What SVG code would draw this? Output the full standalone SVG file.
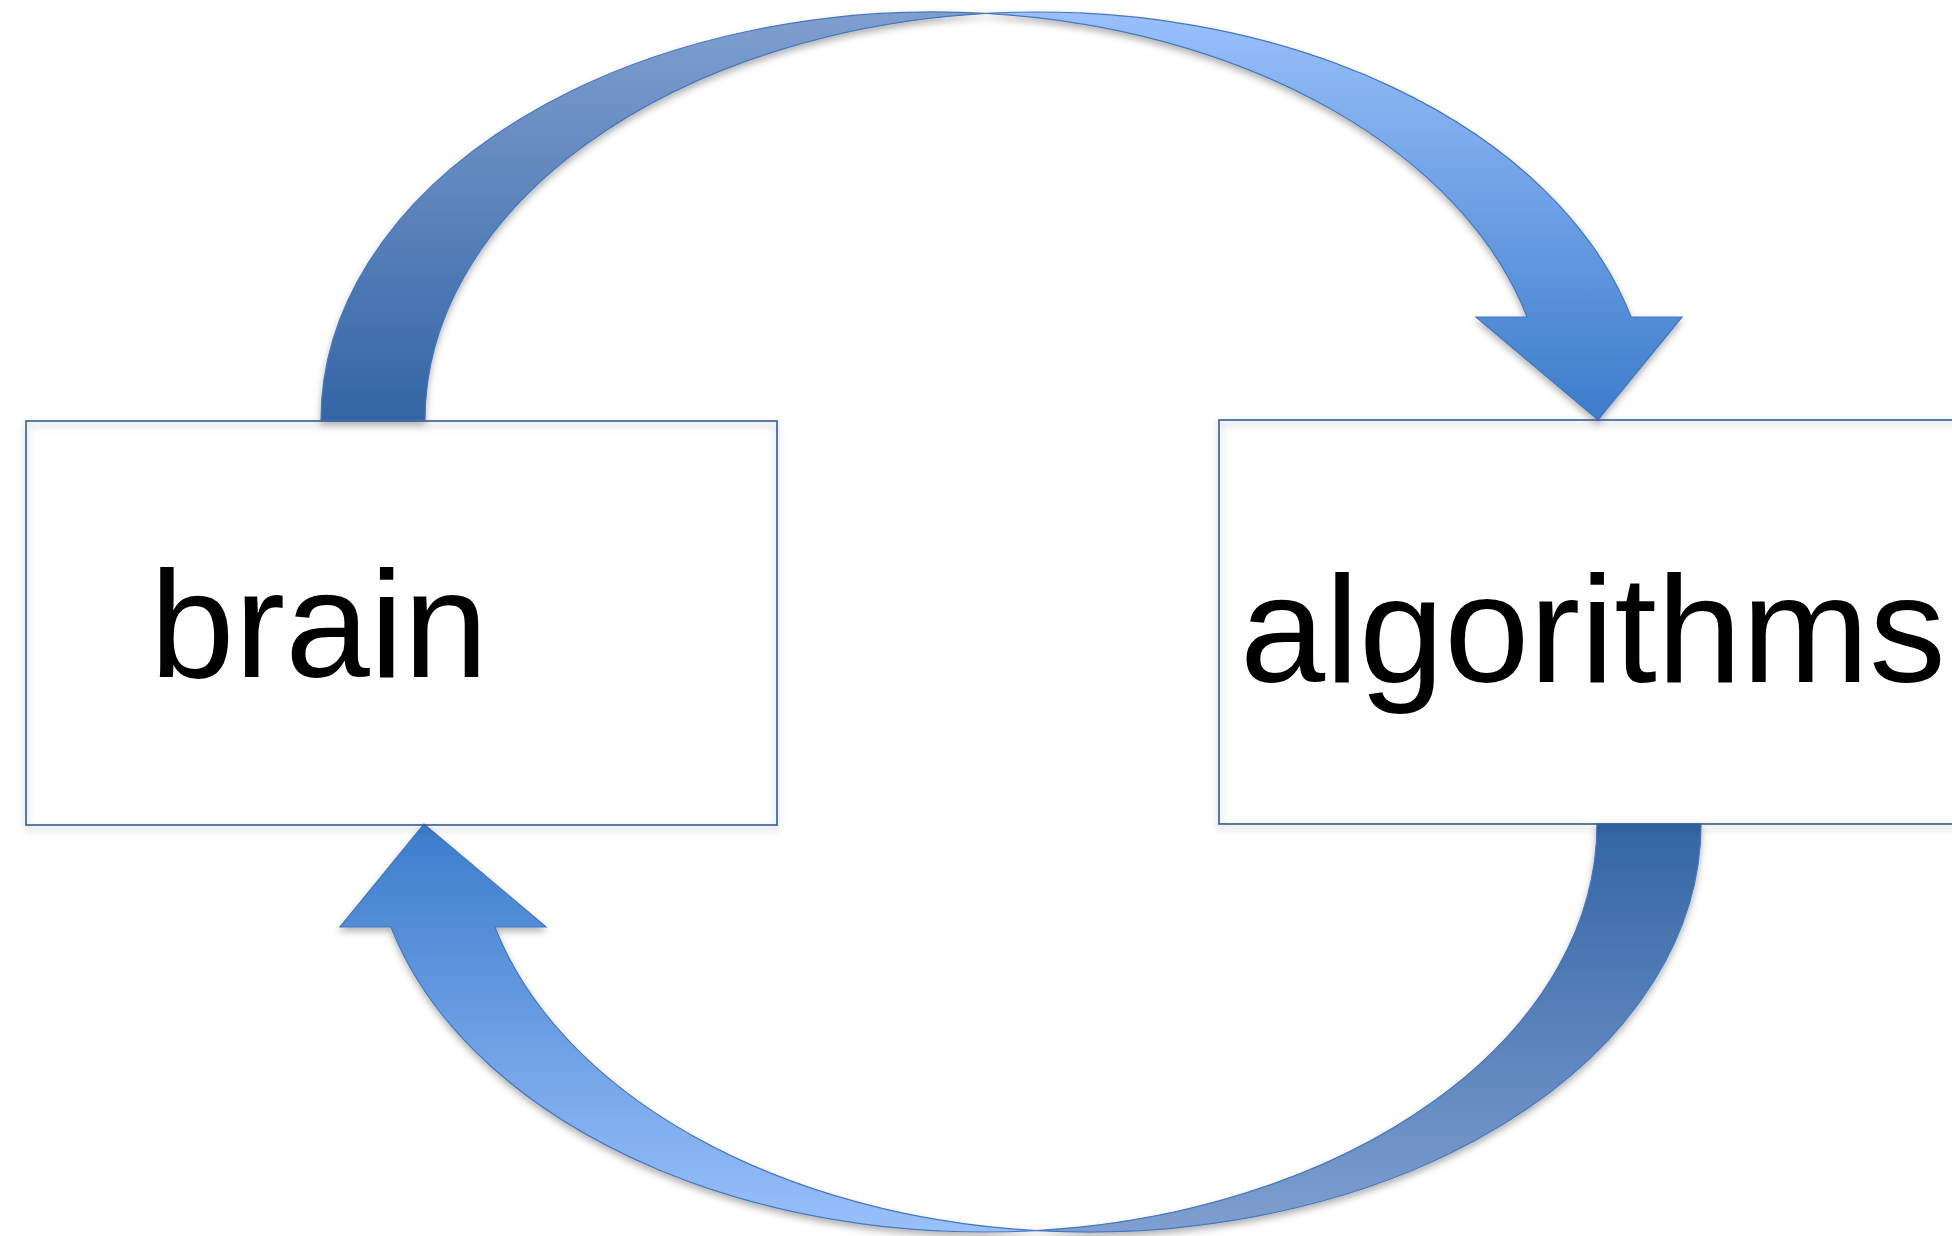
<svg xmlns="http://www.w3.org/2000/svg" xmlns:xlink="http://www.w3.org/1999/xlink" width="1952" height="1236" viewBox="0 0 1952 1236">
  <style>
    .box { fill: none; stroke: #2f5b98; stroke-width: 1.6; }
    .label { font-family: "Liberation Sans", Arial, sans-serif; fill: #000; }
    .band { stroke: #4677bd; stroke-width: 1.2; stroke-linejoin: miter; }
  </style>
  <defs>
    <linearGradient id="gDark" x1="0" y1="0" x2="0" y2="1">
      <stop offset="0" stop-color="#809fd0"/>
      <stop offset="1" stop-color="#3365a4"/>
    </linearGradient>
    <linearGradient id="gLight" x1="0" y1="0" x2="0" y2="1">
      <stop offset="0" stop-color="#99c0fb"/>
      <stop offset="1" stop-color="#3c7ccb"/>
    </linearGradient>
    <filter id="shadow" x="-10%" y="-10%" width="120%" height="130%">
      <feDropShadow dx="0" dy="4" stdDeviation="3.5" flood-color="#000" flood-opacity="0.3"/>
    </filter>
    <g id="curvedArrow">
      <path class="band" fill="url(#gDark)" d="M321,420 A613,408 0 0 1 986,13.47 A613,408 0 0 0 425,420 Z"/>
      <path class="band" fill="url(#gLight)" d="M986,13.47 A613,408 0 0 1 1631.1,317 L1682,317 L1598,420 L1476,317 L1527.1,317 A613,408 0 0 0 986,13.47 Z"/>
    </g>
  </defs>
  <rect width="1952" height="1236" fill="#ffffff"/>
  <g id="connectors" filter="url(#shadow)">
    <use id="arrow-brain-to-algorithms" xlink:href="#curvedArrow" href="#curvedArrow"/>
    <use id="arrow-algorithms-to-brain" xlink:href="#curvedArrow" href="#curvedArrow" transform="rotate(180 1011 622)"/>
  </g>
  <g id="node-brain">
    <rect class="box" x="26" y="421" width="751" height="404" filter="url(#shadow)"/>
    <text class="label" x="150" y="677" font-size="152">brain</text>
  </g>
  <g id="node-algorithms">
    <rect class="box" x="1219" y="420" width="800" height="404" filter="url(#shadow)"/>
    <text class="label" x="1240" y="682" font-size="153">algorithms</text>
  </g>
</svg>
